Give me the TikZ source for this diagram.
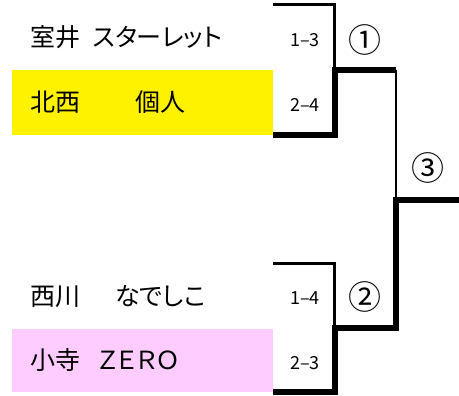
\documentclass[tikz,border=0pt]{standalone}
\usepackage{fontspec}
\setmainfont{Noto Sans CJK JP}[RawFeature=+palt]
\usepackage{tikz}
\definecolor{lilac}{HTML}{FFCCFF}

\begin{document}
\begin{tikzpicture}[x=1pt,y=-1pt,
        team/.style={anchor=west,minimum height=65pt,text width=225pt,inner xsep=18pt,inner ysep=0pt,align=left,font=\fontsize{25}{25}\selectfont},
        score/.style={font=\fontsize{18}{18}\selectfont},
        game/.style={font=\fontsize{33}{33}\selectfont},
        lose/.style={line width=2.7pt},
        win/.style={line width=6pt}]
        \useasboundingbox(0,0)rectangle(459,396);
        \node[team](a)at(12,37.5){室井\hspace{.5em}スターレット};
        \node[team,fill=yellow](b)at(12,102.5){北西\hspace{2.2em}個人};
        \node[team](c)at(12,296.5){西川\hspace{1.4em}なでしこ};
        \node[team,fill=lilac,minimum height=63pt](d)at(12,360.5){小寺\hspace{.7em}ＺＥＲＯ};
        \node[score](s1)at(305,40){1–3};
        \node[score](s2)at(305,105){2–4};
        \node[score](s3)at(305,298){1–4};
        \node[score](s4)at(305,363){2–3};
        \node[game](g1)at(365,40){①};
        \node[game](g2)at(365,297){②};
        \node[game](g3)at(428,168){③};
        \coordinate(m1)at(334.5,70);
        \coordinate(m2)at(334.5,328.5);
        \coordinate(f1)at(396,70);
        \coordinate(f0)at(396,200);
        \coordinate(w)at(459,200);
        \draw[lose](a.north east)-|(m1);
        \draw[lose](c.north east)-|(m2);
        \draw[lose](f1)--(f0);
        \draw[win](b.south east)-|(m1)--(f1);
        \draw[win](d.south east)-|(m2)-|(f0)--(w);
\end{tikzpicture}
\end{document}
